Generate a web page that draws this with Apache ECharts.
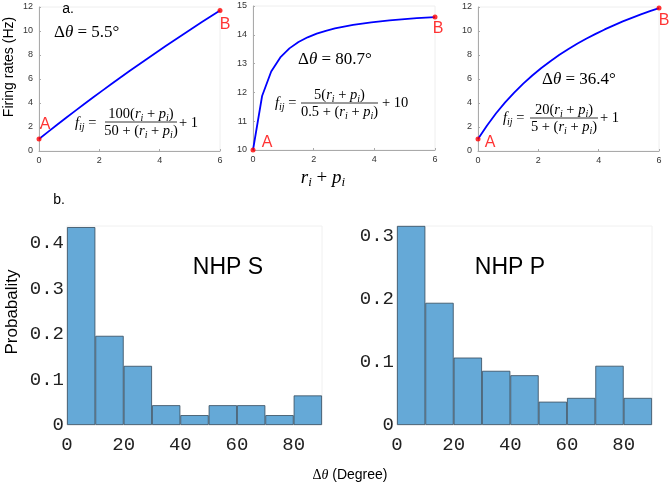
<!DOCTYPE html>
<html>
<head>
<meta charset="utf-8">
<script src="https://cdn.jsdelivr.net/npm/echarts@6/dist/echarts.min.js"></script>
<style>html,body{margin:0;padding:0;background:#fff}#c{width:669px;height:487px}</style>
</head>
<body>
<div id="c"></div>
<script>
// ---------- data ----------
const sumRP = [0,0.3,0.6,0.9,1.2,1.5,1.8,2.1,2.4,2.7,3.0,3.3,3.6,3.9,4.2,4.5,4.8,5.1,5.4,5.7,6.0];
const rateLinear = [1,1.596,2.186,2.768,3.344,3.913,4.475,5.031,5.580,6.123,6.660,7.191,7.716,8.236,8.749,9.257,9.759,10.256,10.747,11.233,11.714];
const rateSharp = [10,11.875,12.727,13.214,13.529,13.75,13.913,14.038,14.138,14.219,14.286,14.342,14.390,14.432,14.468,14.5,14.528,14.554,14.576,14.597,14.615];
const rateMid = [1,2.132,3.143,4.051,4.871,5.615,6.294,6.915,7.486,8.013,8.5,8.952,9.372,9.764,10.130,10.474,10.796,11.099,11.385,11.654,11.909];
const pointNames = ['A','B'];
const deltaTheta = ['5.5°','80.7°','36.4°'];
const histBins = ['0-10','10-20','20-30','30-40','40-50','50-60','60-70','70-80','80-90'];
const probS = [0.435,0.196,0.130,0.0435,0.0217,0.0435,0.0435,0.0217,0.065];
const probP = [0.316,0.194,0.107,0.086,0.079,0.037,0.043,0.094,0.043];
const histTitles = ['NHP S','NHP P'];

// ---------- layout ----------
const topGrids = [
  {left:39, top:7, width:181, height:144, ymin:0, ymax:12, yint:2},
  {left:253, top:6, width:182, height:144, ymin:10, ymax:15, yint:1},
  {left:478, top:7, width:181, height:144, ymin:0, ymax:12, yint:2}
];
const histGrids = [
  {left:67, top:226, width:255, height:199, ymax:0.4374},
  {left:397, top:226, width:255, height:199, ymax:0.3159}
];
const labelOffsets = [
  [[6,-14],[5,14]],
  [[14,-7],[3,12]],
  [[12,4],[5,13]]
];
const rates = [rateLinear, rateSharp, rateMid];

const grid = [], xAxis = [], yAxis = [], series = [];
const axisLblTop = {fontSize:9, color:'#333', fontFamily:'Liberation Sans'};

topGrids.forEach((g, i) => {
  grid.push({left:g.left, top:g.top, width:g.width, height:g.height, show:true, borderColor:'#eeeeee', borderWidth:1});
  xAxis.push({type:'value', gridIndex:i, position:'bottom', min:0, max:6, interval:2,
    axisLine:{show:true, onZero:false, lineStyle:{color:'#aaaaaa', width:1}},
    axisTick:{show:true, inside:true, length:2, lineStyle:{color:'#aaaaaa'}},
    splitLine:{show:false},
    axisLabel:Object.assign({margin:5}, axisLblTop)});
  yAxis.push({type:'value', gridIndex:i, min:g.ymin, max:g.ymax, interval:g.yint,
    axisLine:{show:true, lineStyle:{color:'#aaaaaa', width:1}},
    axisTick:{show:true, inside:true, length:2, lineStyle:{color:'#aaaaaa'}},
    splitLine:{show:false},
    axisLabel:Object.assign({margin:6}, axisLblTop)});
  const data = sumRP.map((x, k) => [x, rates[i][k]]);
  series.push({type:'line', xAxisIndex:i, yAxisIndex:i, data:data, showSymbol:false,
    lineStyle:{color:'#0000ff', width:1.8}, itemStyle:{color:'#0000ff'}, silent:true, animation:false});
  const ends = [0, sumRP.length - 1].map((k, j) => ({
    name: pointNames[j], value:[sumRP[k], rates[i][k]],
    label:{show:true, formatter:'{b}', position:'inside', offset:labelOffsets[i][j],
      color:'#ff0000', fontSize:16, fontFamily:'Liberation Sans'}
  }));
  series.push({type:'scatter', xAxisIndex:i, yAxisIndex:i, data:ends, symbolSize:5,
    itemStyle:{color:'#ff0000'}, z:5, animation:false});
});

histGrids.forEach((g, h) => {
  const gi = 3 + h;
  grid.push({left:g.left, top:g.top, width:g.width, height:g.height, show:true, borderColor:'#f0f0f0', borderWidth:1});
  const catIdx = xAxis.length;
  xAxis.push({type:'category', gridIndex:gi, position:'bottom', data:histBins, boundaryGap:true, show:false});
  xAxis.push({type:'value', gridIndex:gi, position:'bottom', min:0, max:90, interval:20,
    axisLine:{show:false}, axisTick:{show:false}, splitLine:{show:false},
    axisLabel:{margin:10, fontSize:19, color:'#222', fontFamily:'Liberation Mono',
      formatter:v => (v % 20 === 0 ? String(v) : '')}});
  yAxis.push({type:'value', gridIndex:gi, min:0, max:g.ymax, interval:0.1,
    axisLine:{show:false}, axisTick:{show:false}, splitLine:{show:false},
    axisLabel:{margin:3, fontSize:19, color:'#222', fontFamily:'Liberation Mono',
      formatter:v => { const t = Math.round(v*10); if (Math.abs(v*10 - t) > 1e-6) return ''; return t === 0 ? '0' : (t/10).toFixed(1); }}});
  series.push({type:'bar', xAxisIndex:catIdx, yAxisIndex:gi, data:(h === 0 ? probS : probP),
    barCategoryGap:'0%', itemStyle:{color:'#65a9d7', borderColor:'#34495a', borderWidth:0.8},
    silent:true, animation:false});
});

// ---------- annotation graphics ----------
const serif = 'Liberation Serif';
const fRich = {
  n:{fontFamily:serif, fontSize:14.5, lineHeight:18, color:'#000'},
  i:{fontFamily:serif, fontSize:14.5, fontStyle:'italic', lineHeight:18, color:'#000'},
  s:{fontFamily:serif, fontSize:10, fontStyle:'italic', lineHeight:10, verticalAlign:'bottom', color:'#000'}
};
const rp = '{n|(}{i|r}{s|i}{n| + }{i|p}{s|i}{n|)}';
function txt(x, y, text, rich, align) {
  return {type:'text', x:x, y:y, silent:true, style:{text:text, rich:rich, align:align || 'left', verticalAlign:'middle'}};
}
function formula(fx, fy, x1, x2, ly, num, den, tx, tail) {
  return [
    txt(fx, fy, '{i|f}{s|ij}{n| =}', fRich),
    txt((x1+x2)/2, ly - 8, num, fRich, 'center'),
    {type:'line', silent:true, shape:{x1:x1, y1:ly, x2:x2, y2:ly}, style:{stroke:'#000', lineWidth:0.8}},
    txt((x1+x2)/2, ly + 9, den, fRich, 'center'),
    txt(tx, fy, '{n|' + tail + '}', fRich)
  ];
}
const dRich = {
  d:{fontFamily:serif, fontSize:17, color:'#000'},
  t:{fontFamily:serif, fontSize:17, fontStyle:'italic', color:'#000'},
  a:{fontFamily:'Liberation Sans', fontSize:14, color:'#000'},
  u:{fontFamily:serif, fontSize:14, color:'#000'},
  v:{fontFamily:serif, fontSize:14, fontStyle:'italic', color:'#000'}
};
const dPos = [[54,33],[298,60],[542,80]];
const graphic = [];
deltaTheta.forEach((d, i) => graphic.push(txt(dPos[i][0], dPos[i][1], '{d|Δ}{t|θ}{d| = ' + d + '}', dRich)));
graphic.push(...formula(75, 123, 105, 177, 122, '{n|100}' + rp, '{n|50 + }' + rp, 179, '+ 1'));
graphic.push(...formula(275, 103, 301, 378, 103, '{n|5}' + rp, '{n|0.5 + }' + rp, 382, '+ 10'));
graphic.push(...formula(503, 118, 530, 598, 118, '{n|20}' + rp, '{n|5 + }' + rp, 600, '+ 1'));

const sansLbl = (x, y, text, size, extra) => Object.assign({type:'text', x:x, y:y, silent:true,
  style:{text:text, fontFamily:'Liberation Sans', fontSize:size, fill:'#000', align:'center', verticalAlign:'middle'}}, extra || {});
graphic.push(sansLbl(9, 67, 'Firing rates (Hz)', 14, {rotation:Math.PI/2}));
graphic.push(sansLbl(12, 312, 'Probabality', 17, {rotation:Math.PI/2}));
graphic.push(sansLbl(228, 268, histTitles[0], 23));
graphic.push(sansLbl(510, 268, histTitles[1], 23));
graphic.push(sansLbl(68, 9, 'a.', 14));
graphic.push(sansLbl(59, 200, 'b.', 14));
graphic.push(txt(323, 178, '{i|r}{s|i}{n| + }{i|p}{s|i}', {
  n:{fontFamily:serif, fontSize:19, lineHeight:22, color:'#000'},
  i:{fontFamily:serif, fontSize:19, fontStyle:'italic', lineHeight:22, color:'#000'},
  s:{fontFamily:serif, fontSize:13, fontStyle:'italic', lineHeight:12, verticalAlign:'bottom', color:'#000'}
}, 'center'));
graphic.push(txt(350, 475, '{u|Δ}{v|θ}{a| (Degree)}', dRich, 'center'));

const chart = echarts.init(document.getElementById('c'), null, {renderer:'canvas'});
chart.setOption({animation:false, grid, xAxis, yAxis, series, graphic});
</script>
</body>
</html>
